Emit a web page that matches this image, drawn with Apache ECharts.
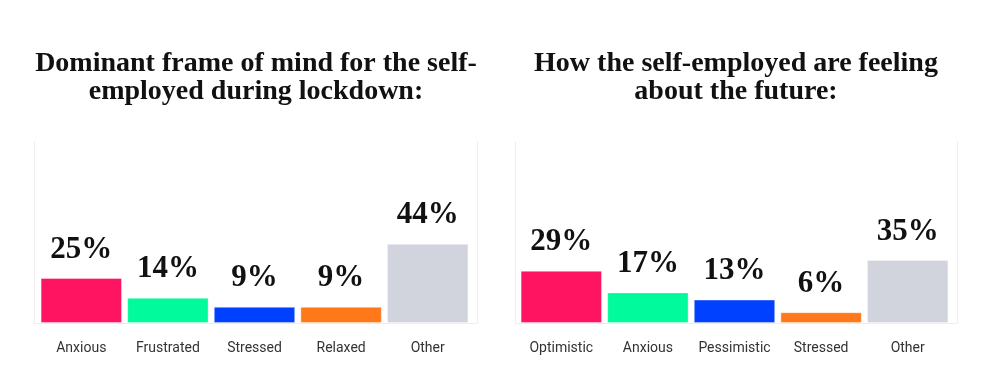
<!DOCTYPE html>
<html>
<head>
<meta charset="utf-8">
<script src="https://cdn.jsdelivr.net/npm/echarts@6/dist/echarts.min.js"></script>
<style>
html,body{margin:0;padding:0;background:#fff;}
#chart{width:1000px;height:387px;}
</style>
</head>
<body>
<div id="chart"></div>
<script>
const titleLeft = "Dominant frame of mind for the self-\nemployed during lockdown:";
const titleRight = "How the self-employed are feeling\nabout the future:";
const categoriesLeft = ["Anxious", "Frustrated", "Stressed", "Relaxed", "Other"];
const valuesLeft = [25, 14, 9, 9, 44];
const categoriesRight = ["Optimistic", "Anxious", "Pessimistic", "Stressed", "Other"];
const valuesRight = [29, 17, 13, 6, 35];
const barColors = ["#ff1462", "#00fa9c", "#0041ff", "#ff781a", "#d1d4dc"];

const frameColor = "#eeeeee";
const serif = "'Liberation Serif', 'DejaVu Serif', serif";

function frameAxes(gridIndex) {
  return {
    x: {type: 'value', gridIndex, min: 0, max: 1, axisLine: {show: true, lineStyle: {color: frameColor}},
        axisTick: {show: false}, axisLabel: {show: false}, splitLine: {show: false}},
    yl: {type: 'value', gridIndex, min: 0, max: 1, position: 'left', axisLine: {show: true, lineStyle: {color: frameColor}},
        axisTick: {show: false}, axisLabel: {show: false}, splitLine: {show: false}},
    yr: {type: 'value', gridIndex, min: 0, max: 1, position: 'right', axisLine: {show: true, lineStyle: {color: frameColor}},
        axisTick: {show: false}, axisLabel: {show: false}, splitLine: {show: false}}
  };
}
const fl = frameAxes(2), fr = frameAxes(3);

function barSeries(xi, values) {
  return {
    type: 'bar', xAxisIndex: xi, yAxisIndex: xi,
    barCategoryGap: '6%',
    data: values.map((v, i) => ({value: v, itemStyle: {color: barColors[i]}})),
    itemStyle: {borderColor: 'rgba(255,255,255,0.35)', borderWidth: 1},
    label: {show: true, position: 'top', distance: 13, formatter: '{c}%',
      fontFamily: serif, fontWeight: 'bold', fontSize: 31, color: '#111', lineHeight: 31},
    silent: true
  };
}

const catLabel = {interval: 0, fontFamily: 'Roboto', fontSize: 14, color: '#333', margin: 18};

const chart = echarts.init(document.getElementById('chart'));
chart.setOption({
  animation: false,
  title: [
    {text: titleLeft, left: 251, top: 45, textAlign: 'center',
     textStyle: {fontFamily: serif, fontWeight: 'bold', fontSize: 28, lineHeight: 28, color: '#111'}},
    {text: titleRight, left: 731, top: 45, textAlign: 'center',
     textStyle: {fontFamily: serif, fontWeight: 'bold', fontSize: 28, lineHeight: 28, color: '#111'}}
  ],
  grid: [
    {left: 38, width: 433, top: 143, height: 180},
    {left: 518, width: 433, top: 143, height: 180},
    {left: 34, width: 443, top: 142, height: 181},
    {left: 515, width: 442, top: 142, height: 181}
  ],
  xAxis: [
    {type: 'category', gridIndex: 0, data: categoriesLeft, axisLine: {show: false}, axisTick: {show: false},
     axisLabel: catLabel},
    {type: 'category', gridIndex: 1, data: categoriesRight, axisLine: {show: false}, axisTick: {show: false},
     axisLabel: catLabel},
    fl.x, fr.x
  ],
  yAxis: [
    {type: 'value', gridIndex: 0, min: 0, max: 100, show: false},
    {type: 'value', gridIndex: 1, min: 0, max: 100, show: false},
    fl.yl, fr.yl, fl.yr, fr.yr
  ],
  series: [barSeries(0, valuesLeft), barSeries(1, valuesRight)]
});
</script>
</body>
</html>
